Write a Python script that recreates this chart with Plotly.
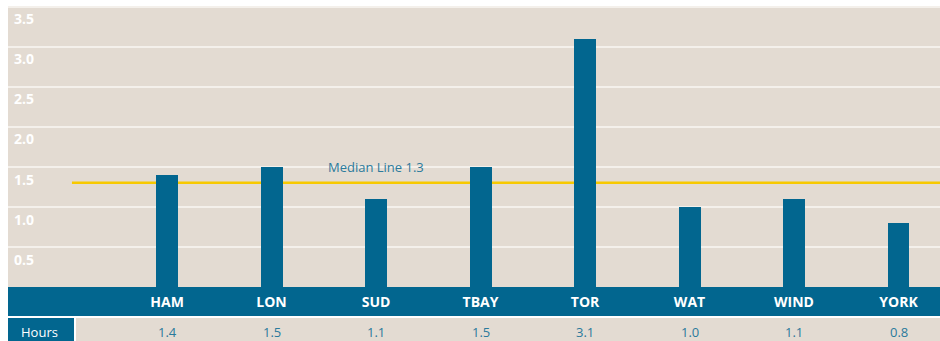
import plotly.graph_objects as go

# Average hours by site
sites = ["HAM", "LON", "SUD", "TBAY", "TOR", "WAT", "WIND", "YORK"]
hours = [1.4, 1.5, 1.1, 1.5, 3.1, 1.0, 1.1, 0.8]
median_hours = 1.3
y_ticks = [0.5, 1.0, 1.5, 2.0, 2.5, 3.0, 3.5]
row_label = "Hours"

BEIGE = "#e3dbd2"
BLUE = "#02668f"
TEAL_TEXT = "#2b7a9c"
YELLOW = "#f7c900"
FONT = "Open Sans"

W, H = 940, 341
Y_TOP = 3.52          # a little headroom so the 3.5 label is kept
PX_PER_UNIT = 80
ML, MB = 8, 54
MT = 7 - (Y_TOP - 3.5) * PX_PER_UNIT
plot_w = W - ML
plot_h = H - MT - MB


def px_to_paper_y(py):
    # pixel row (from top of page) -> paper y coordinate
    return (H - MB - py) / plot_h


def px_to_paper_x(px):
    return (px - ML) / plot_w


fig = go.Figure()
fig.add_trace(go.Bar(
    x=sites, y=hours, width=0.21,
    marker=dict(color=BLUE, line=dict(width=0)),
    hoverinfo="x+y",
))

x_lo, x_hi = -1.522, 7.397

shapes = [
    # white strip above the panel
    dict(type="rect", xref="paper", yref="paper",
         x0=0, x1=1, y0=px_to_paper_y(7.5), y1=1,
         fillcolor="white", line=dict(width=0), layer="below"),
    # category band under the plot area
    dict(type="rect", xref="paper", yref="paper",
         x0=px_to_paper_x(8), x1=1, y0=px_to_paper_y(316), y1=0,
         fillcolor=BLUE, line=dict(width=0), layer="below"),
    # table row: label cell
    dict(type="rect", xref="paper", yref="paper",
         x0=px_to_paper_x(8), x1=px_to_paper_x(74),
         y0=px_to_paper_y(341), y1=px_to_paper_y(318),
         fillcolor=BLUE, line=dict(width=0), layer="below"),
    # table row: values cell
    dict(type="rect", xref="paper", yref="paper",
         x0=px_to_paper_x(76), x1=1,
         y0=px_to_paper_y(341), y1=px_to_paper_y(318),
         fillcolor=BEIGE, line=dict(width=0), layer="below"),
    # median line
    dict(type="line", xref="x", yref="y",
         x0=-0.91, x1=x_hi, y0=median_hours, y1=median_hours,
         line=dict(color=YELLOW, width=2.5), layer="below"),
]

annotations = [
    dict(x=2, y=median_hours, xref="x", yref="y",
         text=f"Median Line {median_hours}", showarrow=False,
         yanchor="bottom", yshift=5,
         font=dict(family=FONT, size=13, color=TEAL_TEXT)),
    dict(x=px_to_paper_x(39), y=px_to_paper_y(332), xref="paper", yref="paper",
         xanchor="center", yanchor="middle",
         text=row_label, showarrow=False,
         font=dict(family=FONT, size=13, color="white")),
]
for s, v in zip(sites, hours):
    annotations.append(dict(
        x=s, y=px_to_paper_y(332), xref="x", yref="paper",
        xanchor="center", yanchor="middle",
        text=f"{v:.1f}", showarrow=False,
        font=dict(family=FONT, size=13, color=TEAL_TEXT)))

fig.update_layout(
    width=W, height=H,
    margin=dict(l=ML, r=0, t=MT, b=MB, pad=0),
    paper_bgcolor="white",
    plot_bgcolor=BEIGE,
    showlegend=False,
    bargap=0,
    shapes=shapes,
    annotations=annotations,
    xaxis=dict(
        type="category", range=[x_lo, x_hi],
        showgrid=False, zeroline=False, showline=False, ticks="",
        tickfont=dict(family=FONT, size=14, color="white", weight="bold"),
        ticklabelstandoff=5,
    ),
    yaxis=dict(
        range=[0, Y_TOP], tickvals=y_ticks,
        ticktext=[f"{t:.1f}" for t in y_ticks],
        ticklabelposition="inside bottom",
        ticklabelstandoff=3, ticklabelshift=3,
        showgrid=True, gridcolor="#f4f0eb", gridwidth=1.5,
        zeroline=False, showline=False, ticks="",
        tickfont=dict(family=FONT, size=14, color="white", weight="bold"),
        layer="below traces",
    ),
)

fig.write_html("out.html")
